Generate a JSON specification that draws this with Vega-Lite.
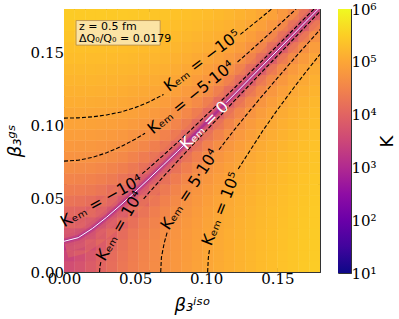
{
"$schema":"https://vega.github.io/schema/vega-lite/v6.json",
"padding":{"left":5,"top":1,"right":4,"bottom":4},
"spacing":16,
"config":{"view":{"stroke":"#333","strokeWidth":1},"axis":{"grid":false,"domain":false,"labelFont":"DejaVu Serif","labelFontSize":15,"labelColor":"#000","tickColor":"#333","titleColor":"#000","labelFlush":false,"labelOverlap":false}},
"datasets":{
"grid":[
{"b":0.00375,"g":0.00375,"K":4140},{"b":0.01125,"g":0.00375,"K":5190},{"b":0.01875,"g":0.00375,"K":7310},{"b":0.02625,"g":0.00375,"K":10500},{"b":0.03375,"g":0.00375,"K":14700},{"b":0.04125,"g":0.00375,"K":20000},{"b":0.04875,"g":0.00375,"K":26300},{"b":0.05625,"g":0.00375,"K":33700},{"b":0.06375,"g":0.00375,"K":42200},{"b":0.07125,"g":0.00375,"K":51700},{"b":0.07875,"g":0.00375,"K":62300},{"b":0.08625,"g":0.00375,"K":73900},{"b":0.09375,"g":0.00375,"K":86600},{"b":0.10125,"g":0.00375,"K":100000},{"b":0.10875,"g":0.00375,"K":115000},{"b":0.11625,"g":0.00375,"K":131000},{"b":0.12375,"g":0.00375,"K":148000},{"b":0.13125,"g":0.00375,"K":166000},{"b":0.13875,"g":0.00375,"K":185000},{"b":0.14625,"g":0.00375,"K":205000},{"b":0.15375,"g":0.00375,"K":226000},{"b":0.16125,"g":0.00375,"K":248000},{"b":0.16875,"g":0.00375,"K":272000},{"b":0.17625,"g":0.00375,"K":296000},
{"b":0.00375,"g":0.01125,"K":3080},{"b":0.01125,"g":0.01125,"K":4140},{"b":0.01875,"g":0.01125,"K":6250},{"b":0.02625,"g":0.01125,"K":9420},{"b":0.03375,"g":0.01125,"K":13700},{"b":0.04125,"g":0.01125,"K":18900},{"b":0.04875,"g":0.01125,"K":25300},{"b":0.05625,"g":0.01125,"K":32700},{"b":0.06375,"g":0.01125,"K":41100},{"b":0.07125,"g":0.01125,"K":50700},{"b":0.07875,"g":0.01125,"K":61200},{"b":0.08625,"g":0.01125,"K":72900},{"b":0.09375,"g":0.01125,"K":85600},{"b":0.10125,"g":0.01125,"K":99300},{"b":0.10875,"g":0.01125,"K":114000},{"b":0.11625,"g":0.01125,"K":130000},{"b":0.12375,"g":0.01125,"K":147000},{"b":0.13125,"g":0.01125,"K":165000},{"b":0.13875,"g":0.01125,"K":184000},{"b":0.14625,"g":0.01125,"K":204000},{"b":0.15375,"g":0.01125,"K":225000},{"b":0.16125,"g":0.01125,"K":247000},{"b":0.16875,"g":0.01125,"K":271000},{"b":0.17625,"g":0.01125,"K":295000},
{"b":0.00375,"g":0.01875,"K":1500},{"b":0.01125,"g":0.01875,"K":2020},{"b":0.01875,"g":0.01875,"K":4140},{"b":0.02625,"g":0.01875,"K":7310},{"b":0.03375,"g":0.01875,"K":11500},{"b":0.04125,"g":0.01875,"K":16800},{"b":0.04875,"g":0.01875,"K":23200},{"b":0.05625,"g":0.01875,"K":30600},{"b":0.06375,"g":0.01875,"K":39000},{"b":0.07125,"g":0.01875,"K":48600},{"b":0.07875,"g":0.01875,"K":59100},{"b":0.08625,"g":0.01875,"K":70800},{"b":0.09375,"g":0.01875,"K":83400},{"b":0.10125,"g":0.01875,"K":97200},{"b":0.10875,"g":0.01875,"K":112000},{"b":0.11625,"g":0.01875,"K":128000},{"b":0.12375,"g":0.01875,"K":145000},{"b":0.13125,"g":0.01875,"K":163000},{"b":0.13875,"g":0.01875,"K":182000},{"b":0.14625,"g":0.01875,"K":202000},{"b":0.15375,"g":0.01875,"K":223000},{"b":0.16125,"g":0.01875,"K":245000},{"b":0.16875,"g":0.01875,"K":269000},{"b":0.17625,"g":0.01875,"K":293000},
{"b":0.00375,"g":0.02625,"K":2210},{"b":0.01125,"g":0.02625,"K":1500},{"b":0.01875,"g":0.02625,"K":1800},{"b":0.02625,"g":0.02625,"K":4140},{"b":0.03375,"g":0.02625,"K":8370},{"b":0.04125,"g":0.02625,"K":13700},{"b":0.04875,"g":0.02625,"K":20000},{"b":0.05625,"g":0.02625,"K":27400},{"b":0.06375,"g":0.02625,"K":35900},{"b":0.07125,"g":0.02625,"K":45400},{"b":0.07875,"g":0.02625,"K":56000},{"b":0.08625,"g":0.02625,"K":67600},{"b":0.09375,"g":0.02625,"K":80300},{"b":0.10125,"g":0.02625,"K":94000},{"b":0.10875,"g":0.02625,"K":109000},{"b":0.11625,"g":0.02625,"K":125000},{"b":0.12375,"g":0.02625,"K":142000},{"b":0.13125,"g":0.02625,"K":160000},{"b":0.13875,"g":0.02625,"K":179000},{"b":0.14625,"g":0.02625,"K":199000},{"b":0.15375,"g":0.02625,"K":220000},{"b":0.16125,"g":0.02625,"K":242000},{"b":0.16875,"g":0.02625,"K":265000},{"b":0.17625,"g":0.02625,"K":290000},
{"b":0.00375,"g":0.03375,"K":6440},{"b":0.01125,"g":0.03375,"K":5380},{"b":0.01875,"g":0.03375,"K":3270},{"b":0.02625,"g":0.03375,"K":2000},{"b":0.03375,"g":0.03375,"K":4140},{"b":0.04125,"g":0.03375,"K":9420},{"b":0.04875,"g":0.03375,"K":15800},{"b":0.05625,"g":0.03375,"K":23200},{"b":0.06375,"g":0.03375,"K":31600},{"b":0.07125,"g":0.03375,"K":41100},{"b":0.07875,"g":0.03375,"K":51700},{"b":0.08625,"g":0.03375,"K":63400},{"b":0.09375,"g":0.03375,"K":76000},{"b":0.10125,"g":0.03375,"K":89800},{"b":0.10875,"g":0.03375,"K":105000},{"b":0.11625,"g":0.03375,"K":120000},{"b":0.12375,"g":0.03375,"K":137000},{"b":0.13125,"g":0.03375,"K":155000},{"b":0.13875,"g":0.03375,"K":174000},{"b":0.14625,"g":0.03375,"K":194000},{"b":0.15375,"g":0.03375,"K":216000},{"b":0.16125,"g":0.03375,"K":238000},{"b":0.16875,"g":0.03375,"K":261000},{"b":0.17625,"g":0.03375,"K":285000},
{"b":0.00375,"g":0.04125,"K":11700},{"b":0.01125,"g":0.04125,"K":10700},{"b":0.01875,"g":0.04125,"K":8550},{"b":0.02625,"g":0.04125,"K":5380},{"b":0.03375,"g":0.04125,"K":2500},{"b":0.04125,"g":0.04125,"K":4140},{"b":0.04875,"g":0.04125,"K":10500},{"b":0.05625,"g":0.04125,"K":17900},{"b":0.06375,"g":0.04125,"K":26300},{"b":0.07125,"g":0.04125,"K":35900},{"b":0.07875,"g":0.04125,"K":46400},{"b":0.08625,"g":0.04125,"K":58100},{"b":0.09375,"g":0.04125,"K":70800},{"b":0.10125,"g":0.04125,"K":84500},{"b":0.10875,"g":0.04125,"K":99300},{"b":0.11625,"g":0.04125,"K":115000},{"b":0.12375,"g":0.04125,"K":132000},{"b":0.13125,"g":0.04125,"K":150000},{"b":0.13875,"g":0.04125,"K":169000},{"b":0.14625,"g":0.04125,"K":189000},{"b":0.15375,"g":0.04125,"K":210000},{"b":0.16125,"g":0.04125,"K":233000},{"b":0.16875,"g":0.04125,"K":256000},{"b":0.17625,"g":0.04125,"K":280000},
{"b":0.00375,"g":0.04875,"K":18100},{"b":0.01125,"g":0.04875,"K":17000},{"b":0.01875,"g":0.04875,"K":14900},{"b":0.02625,"g":0.04875,"K":11700},{"b":0.03375,"g":0.04875,"K":7500},{"b":0.04125,"g":0.04875,"K":3000},{"b":0.04875,"g":0.04875,"K":4140},{"b":0.05625,"g":0.04875,"K":11500},{"b":0.06375,"g":0.04875,"K":20000},{"b":0.07125,"g":0.04875,"K":29500},{"b":0.07875,"g":0.04875,"K":40100},{"b":0.08625,"g":0.04875,"K":51700},{"b":0.09375,"g":0.04875,"K":64400},{"b":0.10125,"g":0.04875,"K":78200},{"b":0.10875,"g":0.04875,"K":93000},{"b":0.11625,"g":0.04875,"K":109000},{"b":0.12375,"g":0.04875,"K":126000},{"b":0.13125,"g":0.04875,"K":144000},{"b":0.13875,"g":0.04875,"K":163000},{"b":0.14625,"g":0.04875,"K":183000},{"b":0.15375,"g":0.04875,"K":204000},{"b":0.16125,"g":0.04875,"K":226000},{"b":0.16875,"g":0.04875,"K":249000},{"b":0.17625,"g":0.04875,"K":274000},
{"b":0.00375,"g":0.05625,"K":25500},{"b":0.01125,"g":0.05625,"K":24400},{"b":0.01875,"g":0.05625,"K":22300},{"b":0.02625,"g":0.05625,"K":19100},{"b":0.03375,"g":0.05625,"K":14900},{"b":0.04125,"g":0.05625,"K":9610},{"b":0.04875,"g":0.05625,"K":3500},{"b":0.05625,"g":0.05625,"K":4000},{"b":0.06375,"g":0.05625,"K":12600},{"b":0.07125,"g":0.05625,"K":22100},{"b":0.07875,"g":0.05625,"K":32700},{"b":0.08625,"g":0.05625,"K":44300},{"b":0.09375,"g":0.05625,"K":57000},{"b":0.10125,"g":0.05625,"K":70800},{"b":0.10875,"g":0.05625,"K":85600},{"b":0.11625,"g":0.05625,"K":101000},{"b":0.12375,"g":0.05625,"K":118000},{"b":0.13125,"g":0.05625,"K":136000},{"b":0.13875,"g":0.05625,"K":155000},{"b":0.14625,"g":0.05625,"K":175000},{"b":0.15375,"g":0.05625,"K":197000},{"b":0.16125,"g":0.05625,"K":219000},{"b":0.16875,"g":0.05625,"K":242000},{"b":0.17625,"g":0.05625,"K":266000},
{"b":0.00375,"g":0.06375,"K":33900},{"b":0.01125,"g":0.06375,"K":32900},{"b":0.01875,"g":0.06375,"K":30800},{"b":0.02625,"g":0.06375,"K":27600},{"b":0.03375,"g":0.06375,"K":23400},{"b":0.04125,"g":0.06375,"K":18100},{"b":0.04875,"g":0.06375,"K":11700},{"b":0.05625,"g":0.06375,"K":4200},{"b":0.06375,"g":0.06375,"K":5000},{"b":0.07125,"g":0.06375,"K":13700},{"b":0.07875,"g":0.06375,"K":24200},{"b":0.08625,"g":0.06375,"K":35900},{"b":0.09375,"g":0.06375,"K":48600},{"b":0.10125,"g":0.06375,"K":62300},{"b":0.10875,"g":0.06375,"K":77100},{"b":0.11625,"g":0.06375,"K":93000},{"b":0.12375,"g":0.06375,"K":110000},{"b":0.13125,"g":0.06375,"K":128000},{"b":0.13875,"g":0.06375,"K":147000},{"b":0.14625,"g":0.06375,"K":167000},{"b":0.15375,"g":0.06375,"K":188000},{"b":0.16125,"g":0.06375,"K":210000},{"b":0.16875,"g":0.06375,"K":234000},{"b":0.17625,"g":0.06375,"K":258000},
{"b":0.00375,"g":0.07125,"K":43500},{"b":0.01125,"g":0.07125,"K":42400},{"b":0.01875,"g":0.07125,"K":40300},{"b":0.02625,"g":0.07125,"K":37100},{"b":0.03375,"g":0.07125,"K":32900},{"b":0.04125,"g":0.07125,"K":27600},{"b":0.04875,"g":0.07125,"K":21200},{"b":0.05625,"g":0.07125,"K":13800},{"b":0.06375,"g":0.07125,"K":5380},{"b":0.07125,"g":0.07125,"K":5000},{"b":0.07875,"g":0.07125,"K":14700},{"b":0.08625,"g":0.07125,"K":26300},{"b":0.09375,"g":0.07125,"K":39000},{"b":0.10125,"g":0.07125,"K":52800},{"b":0.10875,"g":0.07125,"K":67600},{"b":0.11625,"g":0.07125,"K":83400},{"b":0.12375,"g":0.07125,"K":100000},{"b":0.13125,"g":0.07125,"K":118000},{"b":0.13875,"g":0.07125,"K":137000},{"b":0.14625,"g":0.07125,"K":157000},{"b":0.15375,"g":0.07125,"K":179000},{"b":0.16125,"g":0.07125,"K":201000},{"b":0.16875,"g":0.07125,"K":224000},{"b":0.17625,"g":0.07125,"K":248000},
{"b":0.00375,"g":0.07875,"K":54000},{"b":0.01125,"g":0.07875,"K":53000},{"b":0.01875,"g":0.07875,"K":50900},{"b":0.02625,"g":0.07875,"K":47700},{"b":0.03375,"g":0.07875,"K":43500},{"b":0.04125,"g":0.07875,"K":38200},{"b":0.04875,"g":0.07875,"K":31800},{"b":0.05625,"g":0.07875,"K":24400},{"b":0.06375,"g":0.07875,"K":16000},{"b":0.07125,"g":0.07875,"K":6440},{"b":0.07875,"g":0.07875,"K":5000},{"b":0.08625,"g":0.07875,"K":15800},{"b":0.09375,"g":0.07875,"K":28500},{"b":0.10125,"g":0.07875,"K":42200},{"b":0.10875,"g":0.07875,"K":57000},{"b":0.11625,"g":0.07875,"K":72900},{"b":0.12375,"g":0.07875,"K":89800},{"b":0.13125,"g":0.07875,"K":108000},{"b":0.13875,"g":0.07875,"K":127000},{"b":0.14625,"g":0.07875,"K":147000},{"b":0.15375,"g":0.07875,"K":168000},{"b":0.16125,"g":0.07875,"K":190000},{"b":0.16875,"g":0.07875,"K":214000},{"b":0.17625,"g":0.07875,"K":238000},
{"b":0.00375,"g":0.08625,"K":65700},{"b":0.01125,"g":0.08625,"K":64600},{"b":0.01875,"g":0.08625,"K":62500},{"b":0.02625,"g":0.08625,"K":59300},{"b":0.03375,"g":0.08625,"K":55100},{"b":0.04125,"g":0.08625,"K":49800},{"b":0.04875,"g":0.08625,"K":43500},{"b":0.05625,"g":0.08625,"K":36000},{"b":0.06375,"g":0.08625,"K":27600},{"b":0.07125,"g":0.08625,"K":18100},{"b":0.07875,"g":0.08625,"K":7500},{"b":0.08625,"g":0.08625,"K":5000},{"b":0.09375,"g":0.08625,"K":16800},{"b":0.10125,"g":0.08625,"K":30600},{"b":0.10875,"g":0.08625,"K":45400},{"b":0.11625,"g":0.08625,"K":61200},{"b":0.12375,"g":0.08625,"K":78200},{"b":0.13125,"g":0.08625,"K":96100},{"b":0.13875,"g":0.08625,"K":115000},{"b":0.14625,"g":0.08625,"K":135000},{"b":0.15375,"g":0.08625,"K":156000},{"b":0.16125,"g":0.08625,"K":179000},{"b":0.16875,"g":0.08625,"K":202000},{"b":0.17625,"g":0.08625,"K":226000},
{"b":0.00375,"g":0.09375,"K":78400},{"b":0.01125,"g":0.09375,"K":77300},{"b":0.01875,"g":0.09375,"K":75200},{"b":0.02625,"g":0.09375,"K":72000},{"b":0.03375,"g":0.09375,"K":67800},{"b":0.04125,"g":0.09375,"K":62500},{"b":0.04875,"g":0.09375,"K":56100},{"b":0.05625,"g":0.09375,"K":48700},{"b":0.06375,"g":0.09375,"K":40300},{"b":0.07125,"g":0.09375,"K":30800},{"b":0.07875,"g":0.09375,"K":20200},{"b":0.08625,"g":0.09375,"K":8550},{"b":0.09375,"g":0.09375,"K":5000},{"b":0.10125,"g":0.09375,"K":17900},{"b":0.10875,"g":0.09375,"K":32700},{"b":0.11625,"g":0.09375,"K":48600},{"b":0.12375,"g":0.09375,"K":65500},{"b":0.13125,"g":0.09375,"K":83400},{"b":0.13875,"g":0.09375,"K":102000},{"b":0.14625,"g":0.09375,"K":123000},{"b":0.15375,"g":0.09375,"K":144000},{"b":0.16125,"g":0.09375,"K":166000},{"b":0.16875,"g":0.09375,"K":189000},{"b":0.17625,"g":0.09375,"K":214000},
{"b":0.00375,"g":0.10125,"K":92100},{"b":0.01125,"g":0.10125,"K":91000},{"b":0.01875,"g":0.10125,"K":88900},{"b":0.02625,"g":0.10125,"K":85800},{"b":0.03375,"g":0.10125,"K":81500},{"b":0.04125,"g":0.10125,"K":76200},{"b":0.04875,"g":0.10125,"K":69900},{"b":0.05625,"g":0.10125,"K":62500},{"b":0.06375,"g":0.10125,"K":54000},{"b":0.07125,"g":0.10125,"K":44500},{"b":0.07875,"g":0.10125,"K":33900},{"b":0.08625,"g":0.10125,"K":22300},{"b":0.09375,"g":0.10125,"K":9610},{"b":0.10125,"g":0.10125,"K":5000},{"b":0.10875,"g":0.10125,"K":18900},{"b":0.11625,"g":0.10125,"K":34800},{"b":0.12375,"g":0.10125,"K":51700},{"b":0.13125,"g":0.10125,"K":69700},{"b":0.13875,"g":0.10125,"K":88700},{"b":0.14625,"g":0.10125,"K":109000},{"b":0.15375,"g":0.10125,"K":130000},{"b":0.16125,"g":0.10125,"K":152000},{"b":0.16875,"g":0.10125,"K":175000},{"b":0.17625,"g":0.10125,"K":200000},
{"b":0.00375,"g":0.10875,"K":107000},{"b":0.01125,"g":0.10875,"K":106000},{"b":0.01875,"g":0.10875,"K":104000},{"b":0.02625,"g":0.10875,"K":101000},{"b":0.03375,"g":0.10875,"K":96300},{"b":0.04125,"g":0.10875,"K":91000},{"b":0.04875,"g":0.10875,"K":84700},{"b":0.05625,"g":0.10875,"K":77300},{"b":0.06375,"g":0.10875,"K":68800},{"b":0.07125,"g":0.10875,"K":59300},{"b":0.07875,"g":0.10875,"K":48700},{"b":0.08625,"g":0.10875,"K":37100},{"b":0.09375,"g":0.10875,"K":24400},{"b":0.10125,"g":0.10875,"K":10700},{"b":0.10875,"g":0.10875,"K":5000},{"b":0.11625,"g":0.10875,"K":20000},{"b":0.12375,"g":0.10875,"K":36900},{"b":0.13125,"g":0.10875,"K":54900},{"b":0.13875,"g":0.10875,"K":73900},{"b":0.14625,"g":0.10875,"K":94000},{"b":0.15375,"g":0.10875,"K":115000},{"b":0.16125,"g":0.10875,"K":137000},{"b":0.16875,"g":0.10875,"K":161000},{"b":0.17625,"g":0.10875,"K":185000},
{"b":0.00375,"g":0.11625,"K":123000},{"b":0.01125,"g":0.11625,"K":122000},{"b":0.01875,"g":0.11625,"K":120000},{"b":0.02625,"g":0.11625,"K":116000},{"b":0.03375,"g":0.11625,"K":112000},{"b":0.04125,"g":0.11625,"K":107000},{"b":0.04875,"g":0.11625,"K":101000},{"b":0.05625,"g":0.11625,"K":93200},{"b":0.06375,"g":0.11625,"K":84700},{"b":0.07125,"g":0.11625,"K":75200},{"b":0.07875,"g":0.11625,"K":64600},{"b":0.08625,"g":0.11625,"K":53000},{"b":0.09375,"g":0.11625,"K":40300},{"b":0.10125,"g":0.11625,"K":26500},{"b":0.10875,"g":0.11625,"K":11700},{"b":0.11625,"g":0.11625,"K":5000},{"b":0.12375,"g":0.11625,"K":21100},{"b":0.13125,"g":0.11625,"K":39000},{"b":0.13875,"g":0.11625,"K":58100},{"b":0.14625,"g":0.11625,"K":78200},{"b":0.15375,"g":0.11625,"K":99300},{"b":0.16125,"g":0.11625,"K":122000},{"b":0.16875,"g":0.11625,"K":145000},{"b":0.17625,"g":0.11625,"K":169000},
{"b":0.00375,"g":0.12375,"K":140000},{"b":0.01125,"g":0.12375,"K":139000},{"b":0.01875,"g":0.12375,"K":137000},{"b":0.02625,"g":0.12375,"K":133000},{"b":0.03375,"g":0.12375,"K":129000},{"b":0.04125,"g":0.12375,"K":124000},{"b":0.04875,"g":0.12375,"K":117000},{"b":0.05625,"g":0.12375,"K":110000},{"b":0.06375,"g":0.12375,"K":102000},{"b":0.07125,"g":0.12375,"K":92100},{"b":0.07875,"g":0.12375,"K":81500},{"b":0.08625,"g":0.12375,"K":69900},{"b":0.09375,"g":0.12375,"K":57200},{"b":0.10125,"g":0.12375,"K":43500},{"b":0.10875,"g":0.12375,"K":28600},{"b":0.11625,"g":0.12375,"K":12800},{"b":0.12375,"g":0.12375,"K":5000},{"b":0.13125,"g":0.12375,"K":22100},{"b":0.13875,"g":0.12375,"K":41100},{"b":0.14625,"g":0.12375,"K":61200},{"b":0.15375,"g":0.12375,"K":82400},{"b":0.16125,"g":0.12375,"K":105000},{"b":0.16875,"g":0.12375,"K":128000},{"b":0.17625,"g":0.12375,"K":152000},
{"b":0.00375,"g":0.13125,"K":158000},{"b":0.01125,"g":0.13125,"K":157000},{"b":0.01875,"g":0.13125,"K":154000},{"b":0.02625,"g":0.13125,"K":151000},{"b":0.03375,"g":0.13125,"K":147000},{"b":0.04125,"g":0.13125,"K":142000},{"b":0.04875,"g":0.13125,"K":135000},{"b":0.05625,"g":0.13125,"K":128000},{"b":0.06375,"g":0.13125,"K":120000},{"b":0.07125,"g":0.13125,"K":110000},{"b":0.07875,"g":0.13125,"K":99500},{"b":0.08625,"g":0.13125,"K":87900},{"b":0.09375,"g":0.13125,"K":75200},{"b":0.10125,"g":0.13125,"K":61400},{"b":0.10875,"g":0.13125,"K":46600},{"b":0.11625,"g":0.13125,"K":30800},{"b":0.12375,"g":0.13125,"K":13800},{"b":0.13125,"g":0.13125,"K":5000},{"b":0.13875,"g":0.13125,"K":23200},{"b":0.14625,"g":0.13125,"K":43300},{"b":0.15375,"g":0.13125,"K":64400},{"b":0.16125,"g":0.13125,"K":86600},{"b":0.16875,"g":0.13125,"K":110000},{"b":0.17625,"g":0.13125,"K":134000},
{"b":0.00375,"g":0.13875,"K":177000},{"b":0.01125,"g":0.13875,"K":176000},{"b":0.01875,"g":0.13875,"K":174000},{"b":0.02625,"g":0.13875,"K":170000},{"b":0.03375,"g":0.13875,"K":166000},{"b":0.04125,"g":0.13875,"K":161000},{"b":0.04875,"g":0.13875,"K":154000},{"b":0.05625,"g":0.13875,"K":147000},{"b":0.06375,"g":0.13875,"K":139000},{"b":0.07125,"g":0.13875,"K":129000},{"b":0.07875,"g":0.13875,"K":119000},{"b":0.08625,"g":0.13875,"K":107000},{"b":0.09375,"g":0.13875,"K":94200},{"b":0.10125,"g":0.13875,"K":80500},{"b":0.10875,"g":0.13875,"K":65700},{"b":0.11625,"g":0.13875,"K":49800},{"b":0.12375,"g":0.13875,"K":32900},{"b":0.13125,"g":0.13875,"K":14900},{"b":0.13875,"g":0.13875,"K":5000},{"b":0.14625,"g":0.13875,"K":24200},{"b":0.15375,"g":0.13875,"K":45400},{"b":0.16125,"g":0.13875,"K":67600},{"b":0.16875,"g":0.13875,"K":90900},{"b":0.17625,"g":0.13875,"K":115000},
{"b":0.00375,"g":0.14625,"K":197000},{"b":0.01125,"g":0.14625,"K":196000},{"b":0.01875,"g":0.14625,"K":194000},{"b":0.02625,"g":0.14625,"K":190000},{"b":0.03375,"g":0.14625,"K":186000},{"b":0.04125,"g":0.14625,"K":181000},{"b":0.04875,"g":0.14625,"K":175000},{"b":0.05625,"g":0.14625,"K":167000},{"b":0.06375,"g":0.14625,"K":159000},{"b":0.07125,"g":0.14625,"K":149000},{"b":0.07875,"g":0.14625,"K":139000},{"b":0.08625,"g":0.14625,"K":127000},{"b":0.09375,"g":0.14625,"K":114000},{"b":0.10125,"g":0.14625,"K":101000},{"b":0.10875,"g":0.14625,"K":85800},{"b":0.11625,"g":0.14625,"K":69900},{"b":0.12375,"g":0.14625,"K":53000},{"b":0.13125,"g":0.14625,"K":35000},{"b":0.13875,"g":0.14625,"K":16000},{"b":0.14625,"g":0.14625,"K":5000},{"b":0.15375,"g":0.14625,"K":25300},{"b":0.16125,"g":0.14625,"K":47500},{"b":0.16875,"g":0.14625,"K":70800},{"b":0.17625,"g":0.14625,"K":95100},
{"b":0.00375,"g":0.15375,"K":218000},{"b":0.01125,"g":0.15375,"K":217000},{"b":0.01875,"g":0.15375,"K":215000},{"b":0.02625,"g":0.15375,"K":212000},{"b":0.03375,"g":0.15375,"K":207000},{"b":0.04125,"g":0.15375,"K":202000},{"b":0.04875,"g":0.15375,"K":196000},{"b":0.05625,"g":0.15375,"K":188000},{"b":0.06375,"g":0.15375,"K":180000},{"b":0.07125,"g":0.15375,"K":170000},{"b":0.07875,"g":0.15375,"K":160000},{"b":0.08625,"g":0.15375,"K":148000},{"b":0.09375,"g":0.15375,"K":135000},{"b":0.10125,"g":0.15375,"K":122000},{"b":0.10875,"g":0.15375,"K":107000},{"b":0.11625,"g":0.15375,"K":91000},{"b":0.12375,"g":0.15375,"K":74100},{"b":0.13125,"g":0.15375,"K":56100},{"b":0.13875,"g":0.15375,"K":37100},{"b":0.14625,"g":0.15375,"K":17000},{"b":0.15375,"g":0.15375,"K":5000},{"b":0.16125,"g":0.15375,"K":26300},{"b":0.16875,"g":0.15375,"K":49600},{"b":0.17625,"g":0.15375,"K":73900},
{"b":0.00375,"g":0.16125,"K":240000},{"b":0.01125,"g":0.16125,"K":239000},{"b":0.01875,"g":0.16125,"K":237000},{"b":0.02625,"g":0.16125,"K":234000},{"b":0.03375,"g":0.16125,"K":230000},{"b":0.04125,"g":0.16125,"K":224000},{"b":0.04875,"g":0.16125,"K":218000},{"b":0.05625,"g":0.16125,"K":211000},{"b":0.06375,"g":0.16125,"K":202000},{"b":0.07125,"g":0.16125,"K":193000},{"b":0.07875,"g":0.16125,"K":182000},{"b":0.08625,"g":0.16125,"K":170000},{"b":0.09375,"g":0.16125,"K":158000},{"b":0.10125,"g":0.16125,"K":144000},{"b":0.10875,"g":0.16125,"K":129000},{"b":0.11625,"g":0.16125,"K":113000},{"b":0.12375,"g":0.16125,"K":96300},{"b":0.13125,"g":0.16125,"K":78300},{"b":0.13875,"g":0.16125,"K":59300},{"b":0.14625,"g":0.16125,"K":39200},{"b":0.15375,"g":0.16125,"K":18100},{"b":0.16125,"g":0.16125,"K":5000},{"b":0.16875,"g":0.16125,"K":27400},{"b":0.17625,"g":0.16125,"K":51700},
{"b":0.00375,"g":0.16875,"K":263000},{"b":0.01125,"g":0.16875,"K":262000},{"b":0.01875,"g":0.16875,"K":260000},{"b":0.02625,"g":0.16875,"K":257000},{"b":0.03375,"g":0.16875,"K":253000},{"b":0.04125,"g":0.16875,"K":248000},{"b":0.04875,"g":0.16875,"K":241000},{"b":0.05625,"g":0.16875,"K":234000},{"b":0.06375,"g":0.16875,"K":225000},{"b":0.07125,"g":0.16875,"K":216000},{"b":0.07875,"g":0.16875,"K":205000},{"b":0.08625,"g":0.16875,"K":194000},{"b":0.09375,"g":0.16875,"K":181000},{"b":0.10125,"g":0.16875,"K":167000},{"b":0.10875,"g":0.16875,"K":152000},{"b":0.11625,"g":0.16875,"K":137000},{"b":0.12375,"g":0.16875,"K":120000},{"b":0.13125,"g":0.16875,"K":102000},{"b":0.13875,"g":0.16875,"K":82600},{"b":0.14625,"g":0.16875,"K":62500},{"b":0.15375,"g":0.16875,"K":41300},{"b":0.16125,"g":0.16875,"K":19100},{"b":0.16875,"g":0.16875,"K":5000},{"b":0.17625,"g":0.16875,"K":28500},
{"b":0.00375,"g":0.17625,"K":288000},{"b":0.01125,"g":0.17625,"K":287000},{"b":0.01875,"g":0.17625,"K":285000},{"b":0.02625,"g":0.17625,"K":281000},{"b":0.03375,"g":0.17625,"K":277000},{"b":0.04125,"g":0.17625,"K":272000},{"b":0.04875,"g":0.17625,"K":266000},{"b":0.05625,"g":0.17625,"K":258000},{"b":0.06375,"g":0.17625,"K":250000},{"b":0.07125,"g":0.17625,"K":240000},{"b":0.07875,"g":0.17625,"K":230000},{"b":0.08625,"g":0.17625,"K":218000},{"b":0.09375,"g":0.17625,"K":205000},{"b":0.10125,"g":0.17625,"K":192000},{"b":0.10875,"g":0.17625,"K":177000},{"b":0.11625,"g":0.17625,"K":161000},{"b":0.12375,"g":0.17625,"K":144000},{"b":0.13125,"g":0.17625,"K":126000},{"b":0.13875,"g":0.17625,"K":107000},{"b":0.14625,"g":0.17625,"K":86800},{"b":0.15375,"g":0.17625,"K":65700},{"b":0.16125,"g":0.17625,"K":43500},{"b":0.16875,"g":0.17625,"K":20200},{"b":0.17625,"g":0.17625,"K":5000}
],
"band":[
{"b":0,"g":0.021},{"b":0.01,"g":0.0235},{"b":0.02,"g":0.0298},{"b":0.03,"g":0.0375},{"b":0.04,"g":0.046},{"b":0.05,"g":0.0548},{"b":0.06,"g":0.064},{"b":0.07,"g":0.0733},{"b":0.08,"g":0.0827},{"b":0.09,"g":0.0924},{"b":0.1,"g":0.1022},{"b":0.11,"g":0.112},{"b":0.12,"g":0.1218},{"b":0.13,"g":0.1317},{"b":0.14,"g":0.1416},{"b":0.15,"g":0.1515},{"b":0.16,"g":0.1614},{"b":0.17,"g":0.1713},{"b":0.18,"g":0.1812}
],
"contours":[
{"seg":"m100a","lev":-100000,"b":0,"g":0.1053},{"seg":"m100a","lev":-100000,"b":0.01,"g":0.1055},{"seg":"m100a","lev":-100000,"b":0.02,"g":0.1062},{"seg":"m100a","lev":-100000,"b":0.03,"g":0.1075},{"seg":"m100a","lev":-100000,"b":0.04,"g":0.1095},{"seg":"m100a","lev":-100000,"b":0.05,"g":0.1125},{"seg":"m100a","lev":-100000,"b":0.06,"g":0.1165},{"seg":"m100a","lev":-100000,"b":0.07,"g":0.1215},
{"seg":"m100b","lev":-100000,"b":0.124,"g":0.1626},{"seg":"m100b","lev":-100000,"b":0.13,"g":0.1673},{"seg":"m100b","lev":-100000,"b":0.14,"g":0.1752},{"seg":"m100b","lev":-100000,"b":0.146,"g":0.18},
{"seg":"m50a","lev":-50000,"b":0,"g":0.0759},{"seg":"m50a","lev":-50000,"b":0.01,"g":0.0765},{"seg":"m50a","lev":-50000,"b":0.02,"g":0.0785},{"seg":"m50a","lev":-50000,"b":0.03,"g":0.0816},{"seg":"m50a","lev":-50000,"b":0.04,"g":0.0858},{"seg":"m50a","lev":-50000,"b":0.05,"g":0.0909},{"seg":"m50a","lev":-50000,"b":0.057,"g":0.095},
{"seg":"m50b","lev":-50000,"b":0.122,"g":0.1437},{"seg":"m50b","lev":-50000,"b":0.13,"g":0.1505},{"seg":"m50b","lev":-50000,"b":0.14,"g":0.1592},{"seg":"m50b","lev":-50000,"b":0.15,"g":0.1681},{"seg":"m50b","lev":-50000,"b":0.16,"g":0.1771},{"seg":"m50b","lev":-50000,"b":0.1632,"g":0.18},
{"seg":"m10","lev":-10000,"b":0.055,"g":0.0673},{"seg":"m10","lev":-10000,"b":0.06,"g":0.0714},{"seg":"m10","lev":-10000,"b":0.07,"g":0.08},{"seg":"m10","lev":-10000,"b":0.08,"g":0.0889},{"seg":"m10","lev":-10000,"b":0.09,"g":0.098},{"seg":"m10","lev":-10000,"b":0.1,"g":0.1073},{"seg":"m10","lev":-10000,"b":0.11,"g":0.1166},{"seg":"m10","lev":-10000,"b":0.12,"g":0.1261},{"seg":"m10","lev":-10000,"b":0.13,"g":0.1357},{"seg":"m10","lev":-10000,"b":0.14,"g":0.1453},{"seg":"m10","lev":-10000,"b":0.15,"g":0.1549},{"seg":"m10","lev":-10000,"b":0.16,"g":0.1646},{"seg":"m10","lev":-10000,"b":0.17,"g":0.1744},{"seg":"m10","lev":-10000,"b":0.1758,"g":0.18},
{"seg":"z0a","lev":0,"b":0,"g":0.021},{"seg":"z0a","lev":0,"b":0.01,"g":0.0235},{"seg":"z0a","lev":0,"b":0.02,"g":0.0298},{"seg":"z0a","lev":0,"b":0.03,"g":0.0375},{"seg":"z0a","lev":0,"b":0.04,"g":0.046},{"seg":"z0a","lev":0,"b":0.05,"g":0.0548},{"seg":"z0a","lev":0,"b":0.06,"g":0.064},{"seg":"z0a","lev":0,"b":0.07,"g":0.0733},{"seg":"z0a","lev":0,"b":0.08,"g":0.0827},{"seg":"z0a","lev":0,"b":0.084,"g":0.0866},
{"seg":"z0b","lev":0,"b":0.114,"g":0.1159},{"seg":"z0b","lev":0,"b":0.12,"g":0.1218},{"seg":"z0b","lev":0,"b":0.13,"g":0.1317},{"seg":"z0b","lev":0,"b":0.14,"g":0.1416},{"seg":"z0b","lev":0,"b":0.15,"g":0.1515},{"seg":"z0b","lev":0,"b":0.16,"g":0.1614},{"seg":"z0b","lev":0,"b":0.17,"g":0.1713},{"seg":"z0b","lev":0,"b":0.1788,"g":0.18},
{"seg":"p10a","lev":10000,"b":0.025,"g":0},{"seg":"p10a","lev":10000,"b":0.0253,"g":0.004},{"seg":"p10a","lev":10000,"b":0.026,"g":0.0072},
{"seg":"p10b","lev":10000,"b":0.056,"g":0.0501},{"seg":"p10b","lev":10000,"b":0.06,"g":0.0546},{"seg":"p10b","lev":10000,"b":0.07,"g":0.0654},{"seg":"p10b","lev":10000,"b":0.08,"g":0.076},{"seg":"p10b","lev":10000,"b":0.09,"g":0.0865},{"seg":"p10b","lev":10000,"b":0.1,"g":0.0968},{"seg":"p10b","lev":10000,"b":0.11,"g":0.1071},{"seg":"p10b","lev":10000,"b":0.12,"g":0.1174},{"seg":"p10b","lev":10000,"b":0.13,"g":0.1276},{"seg":"p10b","lev":10000,"b":0.14,"g":0.1378},{"seg":"p10b","lev":10000,"b":0.15,"g":0.1479},{"seg":"p10b","lev":10000,"b":0.16,"g":0.158},{"seg":"p10b","lev":10000,"b":0.17,"g":0.1682},{"seg":"p10b","lev":10000,"b":0.18,"g":0.1783},
{"seg":"p50a","lev":50000,"b":0.068,"g":0},{"seg":"p50a","lev":50000,"b":0.0685,"g":0.01},{"seg":"p50a","lev":50000,"b":0.0705,"g":0.02},{"seg":"p50a","lev":50000,"b":0.0725,"g":0.027},
{"seg":"p50b","lev":50000,"b":0.109,"g":0.0837},{"seg":"p50b","lev":50000,"b":0.12,"g":0.0976},{"seg":"p50b","lev":50000,"b":0.13,"g":0.1096},{"seg":"p50b","lev":50000,"b":0.14,"g":0.1213},{"seg":"p50b","lev":50000,"b":0.15,"g":0.1327},{"seg":"p50b","lev":50000,"b":0.16,"g":0.144},{"seg":"p50b","lev":50000,"b":0.17,"g":0.155},{"seg":"p50b","lev":50000,"b":0.18,"g":0.1659},
{"seg":"p100a","lev":100000,"b":0.101,"g":0},{"seg":"p100a","lev":100000,"b":0.1015,"g":0.01},{"seg":"p100a","lev":100000,"b":0.1024,"g":0.016},
{"seg":"p100b","lev":100000,"b":0.1225,"g":0.0705},{"seg":"p100b","lev":100000,"b":0.13,"g":0.0819},{"seg":"p100b","lev":100000,"b":0.14,"g":0.097},{"seg":"p100b","lev":100000,"b":0.15,"g":0.1109},{"seg":"p100b","lev":100000,"b":0.16,"g":0.1241},{"seg":"p100b","lev":100000,"b":0.17,"g":0.1368},{"seg":"p100b","lev":100000,"b":0.18,"g":0.149}
],
"labels":[
{"id":1,"t":"Kₑₘ = −10⁵","b":0.0972,"g":0.1445},
{"id":2,"t":"Kₑₘ = −5·10⁴","b":0.0894,"g":0.1195},
{"id":3,"t":"Kₑₘ = −10⁴","b":0.0265,"g":0.0486},
{"id":4,"t":"Kₑₘ = 0","b":0.0988,"g":0.1003},
{"id":5,"t":"Kₑₘ = 10⁴","b":0.0392,"g":0.0315},
{"id":6,"t":"Kₑₘ = 5·10⁴","b":0.0885,"g":0.0565},
{"id":7,"t":"Kₑₘ = 10⁵","b":0.1105,"g":0.0432}
],
"box":[{"b1":0.0085,"b2":0.0676,"g1":0.1553,"g2":0.1721}],
"notes":[{"t":"z = 0.5 fm","b":0.0106,"g":0.1679},{"t":"ΔQ₀/Q₀ = 0.0179","b":0.0106,"g":0.1597}],
"cbar":[{"lo":10,"hi":1000000}]
},
"hconcat":[
{
"width":256,"height":263,
"resolve":{"axis":{"x":"independent","y":"independent"}},
"layer":[
{"data":{"name":"grid"},"mark":{"type":"rect","width":11,"height":11.4,"clip":true},
"encoding":{
"x":{"field":"b","type":"quantitative","scale":{"domain":[0,0.18],"nice":false,"zero":false},
"axis":{"orient":"bottom","values":[0,0.01,0.02,0.03,0.04,0.05,0.06,0.07,0.08,0.09,0.1,0.11,0.12,0.13,0.14,0.15,0.16,0.17,0.18],"labelExpr":"round(datum.value*100) % 5 == 0 ? format(datum.value, '.2f') : ''","tickSize":{"condition":{"test":"round(datum.value*100) % 5 == 0","value":-4.5},"value":-2.5},"labelPadding":4,"title":"β₃ⁱˢᵒ","titleFont":"DejaVu Sans","titleFontStyle":"italic","titleFontSize":18,"titleFontWeight":"normal","titlePadding":8}},
"y":{"field":"g","type":"quantitative","scale":{"domain":[0,0.18],"nice":false,"zero":false},
"axis":{"orient":"left","values":[0,0.01,0.02,0.03,0.04,0.05,0.06,0.07,0.08,0.09,0.1,0.11,0.12,0.13,0.14,0.15,0.16,0.17,0.18],"labelExpr":"round(datum.value*100) % 5 == 0 ? format(datum.value, '.2f') : ''","tickSize":{"condition":{"test":"round(datum.value*100) % 5 == 0","value":-4.5},"value":-2.5},"labelPadding":5,"title":"β₃ᵍˢ","titleFont":"DejaVu Sans","titleFontStyle":"italic","titleFontSize":18,"titleFontWeight":"normal","titlePadding":6}},
"color":{"field":"K","type":"quantitative","scale":{"type":"log","domain":[10,1000000],"scheme":"plasma","clamp":true},"legend":null}
}},
{"data":{"name":"band"},"mark":{"type":"line","color":"#f08050","strokeWidth":34,"opacity":0.3,"clip":true,"strokeCap":"butt","strokeJoin":"round"},"encoding":{"x":{"field":"b","type":"quantitative","axis":null},"y":{"field":"g","type":"quantitative","axis":null},"order":{"field":"b"}}},
{"data":{"name":"band"},"mark":{"type":"line","color":"#e3666a","strokeWidth":22,"opacity":0.35,"clip":true,"strokeCap":"butt","strokeJoin":"round"},"encoding":{"x":{"field":"b","type":"quantitative","axis":null},"y":{"field":"g","type":"quantitative","axis":null},"order":{"field":"b"}}},
{"data":{"name":"band"},"mark":{"type":"line","color":"#cf4c76","strokeWidth":12,"opacity":0.35,"clip":true,"strokeCap":"butt","strokeJoin":"round"},"encoding":{"x":{"field":"b","type":"quantitative","axis":null},"y":{"field":"g","type":"quantitative","axis":null},"order":{"field":"b"}}},
{"data":{"name":"band"},"mark":{"type":"line","color":"#b5318c","strokeWidth":6,"opacity":0.45,"clip":true,"strokeCap":"butt","strokeJoin":"round"},"encoding":{"x":{"field":"b","type":"quantitative","axis":null},"y":{"field":"g","type":"quantitative","axis":null},"order":{"field":"b"}}},
{"data":{"name":"band"},"mark":{"type":"line","color":"#9a1a9d","strokeWidth":2.5,"opacity":0.5,"clip":true,"strokeCap":"butt","strokeJoin":"round"},"encoding":{"x":{"field":"b","type":"quantitative","axis":null},"y":{"field":"g","type":"quantitative","axis":null},"order":{"field":"b"}}},
{"data":{"name":"contours"},"transform":[{"filter":"datum.lev != 0"}],"mark":{"type":"line","color":"#000","strokeDash":[4,2],"strokeWidth":1.1,"clip":true},
"encoding":{
"x":{"field":"b","type":"quantitative","axis":{"orient":"top","values":[0,0.01,0.02,0.03,0.04,0.05,0.06,0.07,0.08,0.09,0.1,0.11,0.12,0.13,0.14,0.15,0.16,0.17,0.18],"labels":false,"title":null,"tickSize":{"condition":{"test":"round(datum.value*100) % 5 == 0","value":-4.5},"value":-2.5}}},
"y":{"field":"g","type":"quantitative","axis":{"orient":"right","values":[0,0.01,0.02,0.03,0.04,0.05,0.06,0.07,0.08,0.09,0.1,0.11,0.12,0.13,0.14,0.15,0.16,0.17,0.18],"labels":false,"title":null,"tickSize":{"condition":{"test":"round(datum.value*100) % 5 == 0","value":-4.5},"value":-2.5}}},
"detail":{"field":"seg"},"order":{"field":"b"}}},
{"data":{"name":"contours"},"transform":[{"filter":"datum.lev == 0"}],"mark":{"type":"line","color":"#fff","strokeWidth":1,"clip":true},
"encoding":{"x":{"field":"b","type":"quantitative","axis":null},"y":{"field":"g","type":"quantitative","axis":null},"detail":{"field":"seg"},"order":{"field":"b"}}},
{"data":{"name":"labels"},"transform":[{"filter":"datum.id == 1"}],"mark":{"type":"text","angle":-37,"font":"DejaVu Sans","fontSize":16,"color":"#000","align":"center","baseline":"middle"},"encoding":{"x":{"field":"b","type":"quantitative","axis":null},"y":{"field":"g","type":"quantitative","axis":null},"text":{"field":"t"}}},
{"data":{"name":"labels"},"transform":[{"filter":"datum.id == 2"}],"mark":{"type":"text","angle":-39,"font":"DejaVu Sans","fontSize":16,"color":"#000","align":"center","baseline":"middle"},"encoding":{"x":{"field":"b","type":"quantitative","axis":null},"y":{"field":"g","type":"quantitative","axis":null},"text":{"field":"t"}}},
{"data":{"name":"labels"},"transform":[{"filter":"datum.id == 3"}],"mark":{"type":"text","angle":-29,"font":"DejaVu Sans","fontSize":16,"color":"#000","align":"center","baseline":"middle"},"encoding":{"x":{"field":"b","type":"quantitative","axis":null},"y":{"field":"g","type":"quantitative","axis":null},"text":{"field":"t"}}},
{"data":{"name":"labels"},"transform":[{"filter":"datum.id == 4"}],"mark":{"type":"text","angle":-45,"font":"DejaVu Sans","fontSize":16,"color":"#fff","align":"center","baseline":"middle"},"encoding":{"x":{"field":"b","type":"quantitative","axis":null},"y":{"field":"g","type":"quantitative","axis":null},"text":{"field":"t"}}},
{"data":{"name":"labels"},"transform":[{"filter":"datum.id == 5"}],"mark":{"type":"text","angle":-60,"font":"DejaVu Sans","fontSize":16,"color":"#000","align":"center","baseline":"middle"},"encoding":{"x":{"field":"b","type":"quantitative","axis":null},"y":{"field":"g","type":"quantitative","axis":null},"text":{"field":"t"}}},
{"data":{"name":"labels"},"transform":[{"filter":"datum.id == 6"}],"mark":{"type":"text","angle":-57,"font":"DejaVu Sans","fontSize":16,"color":"#000","align":"center","baseline":"middle"},"encoding":{"x":{"field":"b","type":"quantitative","axis":null},"y":{"field":"g","type":"quantitative","axis":null},"text":{"field":"t"}}},
{"data":{"name":"labels"},"transform":[{"filter":"datum.id == 7"}],"mark":{"type":"text","angle":-68,"font":"DejaVu Sans","fontSize":16,"color":"#000","align":"center","baseline":"middle"},"encoding":{"x":{"field":"b","type":"quantitative","axis":null},"y":{"field":"g","type":"quantitative","axis":null},"text":{"field":"t"}}},
{"data":{"name":"box"},"mark":{"type":"rect","fill":"#fbe3a4","stroke":"#b08a50","strokeWidth":0.8},"encoding":{"x":{"field":"b1","type":"quantitative","axis":null},"x2":{"field":"b2"},"y":{"field":"g1","type":"quantitative","axis":null},"y2":{"field":"g2"}}},
{"data":{"name":"notes"},"mark":{"type":"text","font":"DejaVu Sans","fontSize":11,"color":"#000","align":"left","baseline":"middle"},"encoding":{"x":{"field":"b","type":"quantitative","axis":null},"y":{"field":"g","type":"quantitative","axis":null},"text":{"field":"t"}}}
]
},
{
"width":13,"height":264,
"data":{"name":"cbar"},
"mark":{"type":"rect","fill":{"gradient":"linear","x1":0,"y1":1,"x2":0,"y2":0,"stops":[{"offset":0,"color":"#0d0887"},{"offset":0.1,"color":"#41049d"},{"offset":0.2,"color":"#6a00a8"},{"offset":0.3,"color":"#8f0da4"},{"offset":0.4,"color":"#b12a90"},{"offset":0.5,"color":"#cc4778"},{"offset":0.6,"color":"#e16462"},{"offset":0.7,"color":"#f2844b"},{"offset":0.8,"color":"#fca636"},{"offset":0.9,"color":"#fcce25"},{"offset":1,"color":"#f0f921"}]}},
"encoding":{
"y":{"field":"lo","type":"quantitative","scale":{"type":"log","domain":[10,1000000],"nice":false},
"axis":{"orient":"right","values":[10,20,30,40,50,60,70,80,90,100,200,300,400,500,600,700,800,900,1000,2000,3000,4000,5000,6000,7000,8000,9000,10000,20000,30000,40000,50000,60000,70000,80000,90000,100000,200000,300000,400000,500000,600000,700000,800000,900000,1000000],
"labelExpr":"datum.value == 10 ? '10¹' : datum.value == 100 ? '10²' : datum.value == 1000 ? '10³' : datum.value == 10000 ? '10⁴' : datum.value == 100000 ? '10⁵' : datum.value == 1000000 ? '10⁶' : ''",
"tickSize":{"condition":{"test":"indexof([10,100,1000,10000,100000,1000000], datum.value) >= 0","value":-4},"value":-2},
"labelPadding":4,"title":"K","titleAngle":270,"titleFont":"DejaVu Sans","titleFontSize":18,"titleFontWeight":"normal","titlePadding":20}},
"y2":{"field":"hi"}
}
}
]
}
